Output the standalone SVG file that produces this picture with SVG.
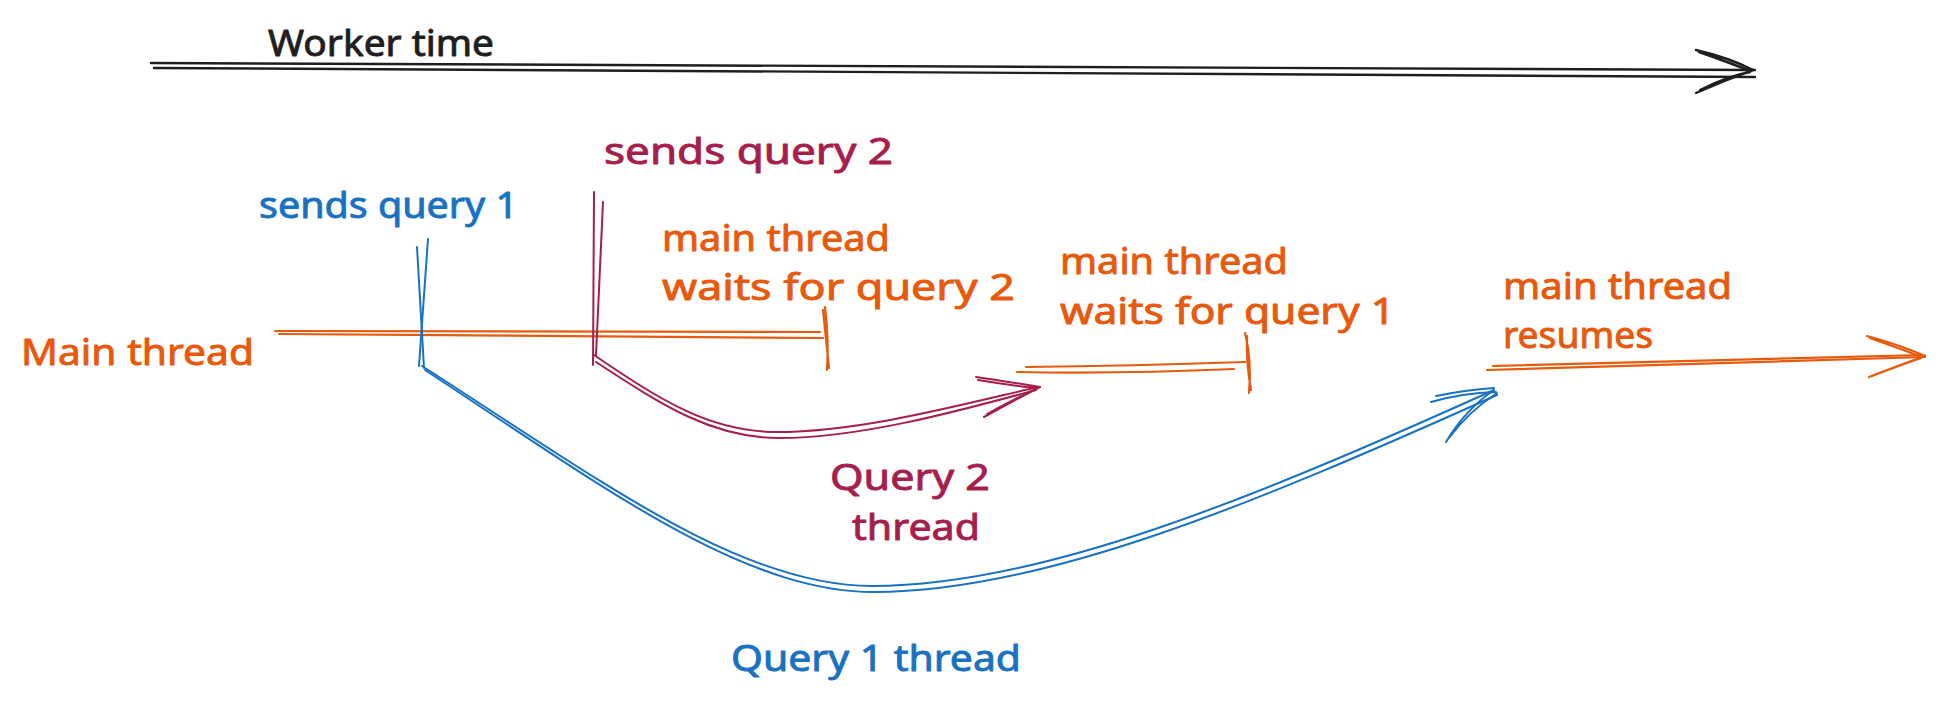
<svg xmlns="http://www.w3.org/2000/svg" width="1945" height="705" viewBox="0 0 1945 705">
<style>
text{font-family:"Noto Sans","Liberation Sans",sans-serif;font-size:37px;stroke-width:0.9px;stroke-linejoin:round}
.k{fill:#1e1e1e;stroke:#1e1e1e}.o{fill:#e8590c;stroke:#e8590c}.b{fill:#1971c2;stroke:#1971c2}.m{fill:#a61e4d;stroke:#a61e4d}
.ln{fill:none;stroke-linecap:round;stroke-linejoin:round}
.sk{stroke:#1e1e1e;stroke-width:2.4}
.so{stroke:#e8590c;stroke-width:2.2}
.sb{stroke:#1971c2;stroke-width:2}
.sm{stroke:#a61e4d;stroke-width:2}
</style>
<rect width="1945" height="705" fill="#ffffff"/>
<g id="connectors">
  <g id="worker-time-arrow">
    <path class="ln sk" d="M151,63 L1755,70"/>
    <path class="ln sk" d="M154,68 L1755,77"/>
    <path class="ln sk" d="M1696,50 Q1730,58 1753,70 M1699,52 Q1728,62 1750,71"/>
    <path class="ln sk" d="M1696,93 Q1725,80 1753,70 M1700,90 Q1728,76 1750,72"/>
  </g>
  <g id="main-thread-line">
    <path class="ln so" d="M275,331 L820,332"/>
    <path class="ln so" d="M279,334 L823,338"/>
    <path class="ln so" d="M825,307 Q829,340 827,370 M823,310 Q826,340 829,368"/>
  </g>
  <g id="wait-line">
    <path class="ln so" d="M1026,367 Q1130,366 1245,362"/>
    <path class="ln so" d="M1017,372 Q1120,374 1234,369"/>
    <path class="ln so" d="M1245,333 Q1252,360 1249,393 M1247,336 Q1246,362 1251,390"/>
  </g>
  <g id="resume-arrow">
    <path class="ln so" d="M1493,366 L1923,355"/>
    <path class="ln so" d="M1487,370 L1925,357"/>
    <path class="ln so" d="M1867,336 Q1900,345 1925,356 M1870,338 Q1898,348 1922,357"/>
    <path class="ln so" d="M1869,377 Q1900,365 1925,356 M1872,376 Q1898,366 1921,358"/>
  </g>
  <g id="send-1-tick">
    <path class="ln sb" d="M417,247 L424,368"/>
    <path class="ln sb" d="M428,239 L419,366"/>
  </g>
  <g id="send-2-tick">
    <path class="ln sm" d="M594,192 L593,365"/>
    <path class="ln sm" d="M603,202 L596,355"/>
  </g>
  <g id="query-2-arrow">
    <path class="ln sm" d="M594,355 C660,400 710,432 777,432 C860,432 960,405 1038,387"/>
    <path class="ln sm" d="M596,362 C662,405 712,438 779,438 C862,438 962,410 1036,390"/>
    <path class="ln sm" d="M976,377 Q1010,382 1040,387 M978,380 Q1008,385 1036,388"/>
    <path class="ln sm" d="M984,417 Q1015,400 1040,387 M987,414 Q1012,400 1036,389"/>
  </g>
  <g id="query-1-arrow">
    <path class="ln sb" d="M422,366 C600,480 740,586 872,586 C1040,586 1250,500 1494,390"/>
    <path class="ln sb" d="M425,370 C602,486 742,592 874,592 C1042,592 1252,505 1497,395"/>
    <path class="ln sb" d="M1436,396 Q1465,390 1494,388 M1431,402 Q1462,393 1496,392"/>
    <path class="ln sb" d="M1446,442 Q1465,410 1494,390 M1449,438 Q1468,412 1497,393"/>
  </g>
</g>
<g id="label-worker-time"><text class="k" x="268" y="56" textLength="226" lengthAdjust="spacingAndGlyphs">Worker time</text></g>
<g id="label-main-thread"><text class="o" x="21" y="365" textLength="233" lengthAdjust="spacingAndGlyphs">Main thread</text></g>
<g id="label-sends-query-1"><text class="b" x="259" y="218" textLength="259" lengthAdjust="spacingAndGlyphs">sends query 1</text></g>
<g id="label-sends-query-2"><text class="m" x="604" y="164" textLength="289" lengthAdjust="spacingAndGlyphs">sends query 2</text></g>
<g id="label-waits-query-2">
  <text class="o" x="662" y="251" textLength="228" lengthAdjust="spacingAndGlyphs">main thread</text>
  <text class="o" x="662" y="300" textLength="353" lengthAdjust="spacingAndGlyphs">waits for query 2</text>
</g>
<g id="label-waits-query-1">
  <text class="o" x="1060" y="274" textLength="228" lengthAdjust="spacingAndGlyphs">main thread</text>
  <text class="o" x="1060" y="324" textLength="335" lengthAdjust="spacingAndGlyphs">waits for query 1</text>
</g>
<g id="label-resumes">
  <text class="o" x="1503" y="299" textLength="229" lengthAdjust="spacingAndGlyphs">main thread</text>
  <text class="o" x="1503" y="348" textLength="150" lengthAdjust="spacingAndGlyphs">resumes</text>
</g>
<g id="label-query-2-thread">
  <text class="m" x="830" y="490" textLength="160" lengthAdjust="spacingAndGlyphs">Query 2</text>
  <text class="m" x="852" y="540" textLength="128" lengthAdjust="spacingAndGlyphs">thread</text>
</g>
<g id="label-query-1-thread"><text class="b" x="731" y="671" textLength="290" lengthAdjust="spacingAndGlyphs">Query 1 thread</text></g>
</svg>
